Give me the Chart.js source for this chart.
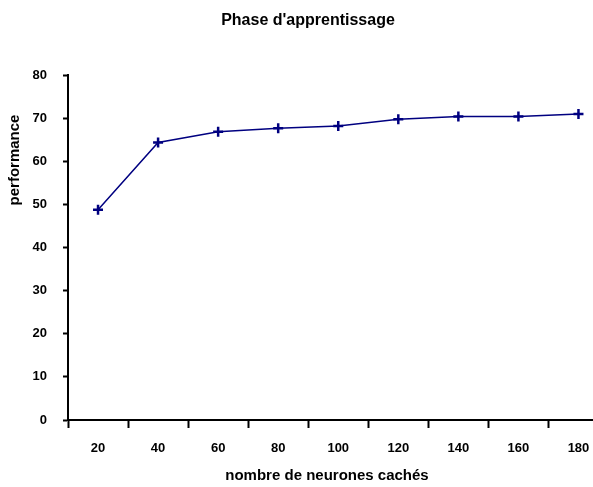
<!DOCTYPE html>
<html>
<head>
<meta charset="utf-8">
<script src="https://cdn.jsdelivr.net/npm/chart.js@4"></script>
<style>
  body { margin: 0; overflow: hidden; background: #fff; }
  #wrap { width: 616px; height: 487px; }
</style>
</head>
<body>
<div id="wrap"><canvas id="chart" width="616" height="487"></canvas></div>
<script>
// Données
const chartTitle = "Phase d'apprentissage";
const xTitle = 'nombre de neurones cachés';
const yTitle = 'performance';
const neurones = ['20', '40', '60', '80', '100', '120', '140', '160', '180'];
const performance = [48.8, 64.4, 66.9, 67.7, 68.2, 69.8, 70.4, 70.4, 71.0];

const fontFamily = '"Liberation Sans", Arial, sans-serif';

// Titres des axes placés comme sur l'original
const axisTitles = {
  id: 'axisTitles',
  afterDraw(chart) {
    const ctx = chart.ctx;
    ctx.save();
    ctx.font = 'bold 15px ' + fontFamily;
    ctx.fillStyle = '#000';
    ctx.textAlign = 'center';
    ctx.textBaseline = 'middle';
    ctx.fillText(xTitle, 327, 476);
    ctx.translate(15, 160);
    ctx.rotate(-Math.PI / 2);
    ctx.fillText(yTitle, 0, 0);
    ctx.restore();
  }
};

const ctx = document.getElementById('chart').getContext('2d');
new Chart(ctx, {
  type: 'line',
  data: {
    labels: neurones,
    datasets: [{
      label: yTitle,
      data: performance,
      borderColor: '#000080',
      borderWidth: 1.5,
      backgroundColor: '#000080',
      pointStyle: 'cross',
      pointRadius: 5,
      pointBorderWidth: 2.5,
      pointBorderColor: '#000080',
      tension: 0
    }]
  },
  options: {
    responsive: false,
    animation: false,
    layout: { padding: { left: 0, right: 0, top: 0, bottom: 0 } },
    plugins: {
      legend: { display: false },
      tooltip: { enabled: false },
      title: {
        display: true,
        text: chartTitle,
        color: '#000',
        font: { family: fontFamily, size: 16, weight: 'bold' },
        padding: { top: 11, bottom: 45 }
      }
    },
    scales: {
      x: {
        offset: true,
        grid: {
          offset: true,
          drawOnChartArea: false,
          drawTicks: true,
          tickLength: 8,
          tickWidth: 2,
          tickColor: '#000'
        },
        border: { color: '#000', width: 2 },
        ticks: {
          color: '#000',
          padding: 13,
          maxRotation: 0,
          font: { family: fontFamily, size: 13, weight: 'bold' }
        },
        afterFit: function(scale) { scale.height = 67; }
      },
      y: {
        min: 0,
        max: 80,
        grid: {
          drawOnChartArea: false,
          drawTicks: true,
          tickLength: 5,
          tickWidth: 2,
          tickColor: '#000'
        },
        border: { color: '#000', width: 2 },
        ticks: {
          stepSize: 10,
          color: '#000',
          padding: 16,
          font: { family: fontFamily, size: 13, weight: 'bold' }
        },
        afterFit: function(scale) { scale.width = 68; }
      }
    }
  },
  plugins: [axisTitles]
});
</script>
</body>
</html>
